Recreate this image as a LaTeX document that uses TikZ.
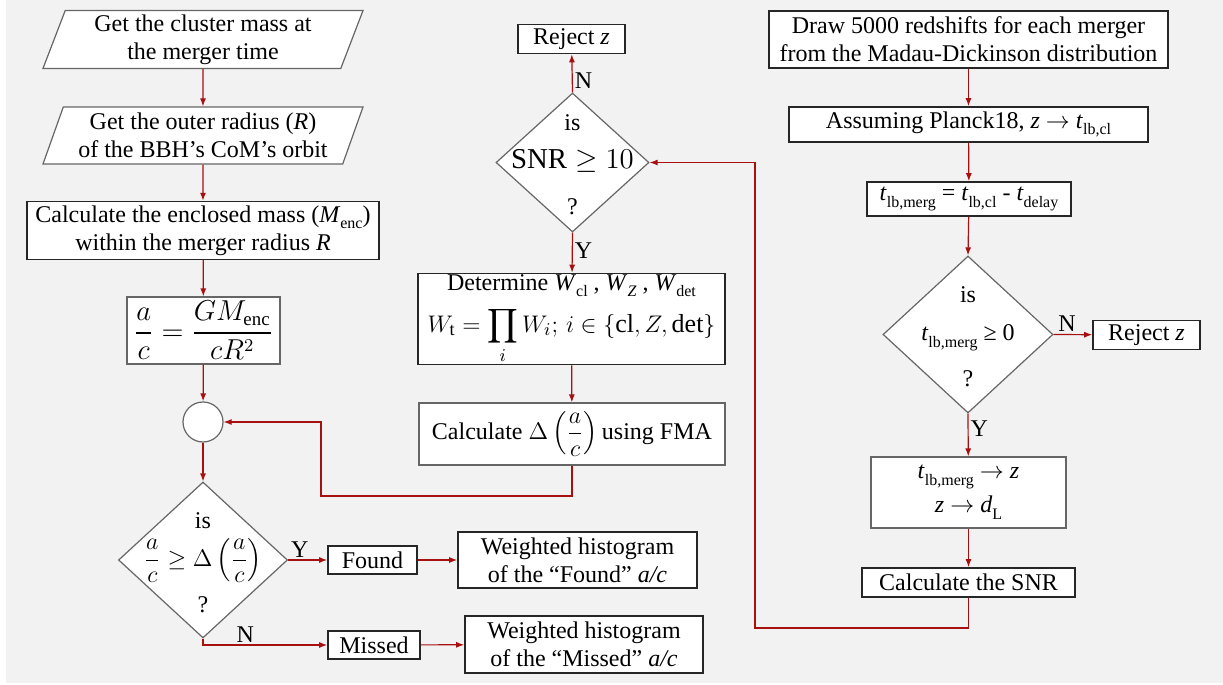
\documentclass[tikz,border=0pt]{standalone}
\usepackage{amsmath}
\usepackage{fontspec}
\setmainfont{Liberation Serif}
\usetikzlibrary{shapes.geometric,arrows.meta}
\definecolor{flowred}{RGB}{168,16,16}
\definecolor{paper}{RGB}{242,242,242}
\newcommand\low[1]{\raisebox{-0.6ex}{\fontsize{8}{9}\selectfont #1}}
\newcommand\ask[1]{\makebox[0pt]{\raisebox{16pt}[0pt][0pt]{is}}\makebox[0pt]{\raisebox{-3pt}[0pt][0pt]{#1}}\makebox[0pt]{\raisebox{-26pt}[0pt][0pt]{?}}}
\begin{document}
\begin{tikzpicture}[x=0.5pt,y=-0.5pt,>={Latex[length=4pt,width=3pt]},
  every node/.style={font=\fontsize{12}{14}\selectfont,align=center,fill=white,inner sep=2pt},
  box/.style={draw=black!85,line width=0.8pt},
  soft/.style={draw=black!60,line width=0.6pt},
  io/.style={soft,trapezium,trapezium left angle=69,trapezium right angle=111,trapezium stretches body},
  test/.style={soft,diamond,inner sep=0pt},
  flow/.style={->,draw=flowred,line width=0.6pt},
  tag/.style={fill=none,inner sep=1pt}]
\fill[white] (0,0) rectangle (1223,685);
\fill[paper] (6,0) rectangle (1223,683);

\node[io,minimum width=160pt,minimum height=28.5pt] (mass) at (203,39.5) {Get the cluster mass at\\the merger time};
\node[io,minimum width=160pt,minimum height=28.5pt] (radius) at (203,135.5) {Get the outer radius (\textit{R})\\of the BBH's CoM's orbit};
\node[box,minimum width=176pt,minimum height=28.5pt] (enclosed) at (203,230.5) {Calculate the enclosed mass (\textit{M}\low{enc})\\within the merger radius \textit{R}};
\node[soft,minimum width=76.5pt,minimum height=33.5pt,inner sep=1pt,font=\fontsize{13.5}{15}\selectfont] (ratio) at (203.5,330.5) {$\dfrac{a}{c}=\dfrac{GM_\mathrm{enc}}{cR^2}$};
\node[soft,circle,minimum size=20pt,inner sep=0pt] (join) at (203,422) {};
\node[test,minimum width=84.5pt,minimum height=78pt] (cmp) at (203,560) {\ask{\fontsize{12.7}{15}\selectfont$\dfrac{a}{c}\geq\Delta\left(\dfrac{a}{c}\right)$}};
\node[box,minimum width=44.5pt,minimum height=14pt] (found) at (372.5,560) {Found};
\node[box,minimum width=46pt,minimum height=14pt] (missed) at (374,645) {Missed};
\node[box,minimum width=119.5pt,minimum height=28pt] (histfound) at (577.5,560) {Weighted histogram\\of the ``Found'' \textit{a/c}};
\node[box,minimum width=119pt,minimum height=28.5pt] (histmissed) at (584,644.5) {Weighted histogram\\of the ``Missed'' \textit{a/c}};

\node[box,minimum width=53.5pt,minimum height=14pt] (rejectsnr) at (571.5,39) {Reject \textit{z}};
\node[test,minimum width=76.5pt,minimum height=69.5pt] (snr) at (572.5,162.5) {\ask{\Large$\mathrm{SNR}\geq 10$}};
\node[box,minimum width=153.5pt,minimum height=45.5pt,inner sep=0pt] (weights) at (571.5,319) {Determine \textit{W}\low{cl} , \textit{W}\low{\textit{Z}} , \textit{W}\low{det}\\[4pt]{\fontsize{13}{15}\selectfont$\displaystyle W_\mathrm{t}=\prod_i W_i;\, i\in\{\mathrm{cl},Z,\mathrm{det}\}$}};
\node[soft,minimum width=153pt,minimum height=31pt] (delta) at (572,434) {Calculate $\Delta\left(\dfrac{a}{c}\right)$\,using FMA};

\node[box,minimum width=199.5pt,minimum height=28.5pt] (draws) at (968.5,39.5) {Draw 5000 redshifts for each merger\\from the Madau-Dickinson distribution};
\node[box,minimum width=179.5pt,minimum height=17.5pt] (planck) at (968.5,124.5) {Assuming Planck18, \textit{z} $\rightarrow$ \textit{t}\low{lb,cl}};
\node[box,minimum width=102pt,minimum height=17pt] (delay) at (969,199) {\textit{t}\low{lb,merg} = \textit{t}\low{lb,cl} - \textit{t}\low{delay}};
\node[test,minimum width=85pt,minimum height=78.5pt] (age) at (968,334.5) {\ask{\textit{t}\low{lb,merg} ≥ 0}};
\node[box,minimum width=53.5pt,minimum height=14pt] (rejectage) at (1146.5,335) {Reject \textit{z}};
\node[soft,minimum width=97.5pt,minimum height=35.5pt] (invert) at (968.5,492.5) {\textit{t}\low{lb,merg} $\rightarrow$ \textit{z}\\[3pt]\textit{z} $\rightarrow$ \textit{d}\low{L}};
\node[box,minimum width=106.5pt,minimum height=14.5pt] (snrcalc) at (968.5,582.5) {Calculate the SNR};

\coordinate (backleft) at (321,496);
\coordinate (backright) at (755,628);

\draw[flow] (mass) -- (radius);
\draw[flow] (radius) -- (enclosed);
\draw[flow] (enclosed) -- (ratio);
\draw[flow] (ratio) -- (join);
\draw[flow] (join) -- (cmp.north);
\draw[flow] (cmp.east) -- node[tag,above,pos=0.3]{Y} (found);
\draw[flow] (cmp.south) |- node[tag,above,pos=0.67]{N} (missed);
\draw[flow] (found) -- (histfound);
\draw[flow] (missed) -- (histmissed);

\draw[flow] (snr.north) -- node[tag,right,pos=0.3]{N} (rejectsnr);
\draw[flow] (snr.south) -- node[tag,right,pos=0.45]{Y} (weights);
\draw[flow] (weights) -- (delta);
\draw[flow] (delta.south) |- (backleft) |- (join.east);

\draw[flow] (draws) -- (planck);
\draw[flow] (planck) -- (delay);
\draw[flow] (delay) -- (age.north);
\draw[flow] (age.east) -- node[tag,above,pos=0.35]{N} (rejectage);
\draw[flow] (age.south) -- node[tag,right,pos=0.35]{Y} (invert);
\draw[flow] (invert) -- (snrcalc);
\draw[flow] (snrcalc.south) |- (backright) |- (snr.east);
\end{tikzpicture}
\end{document}
